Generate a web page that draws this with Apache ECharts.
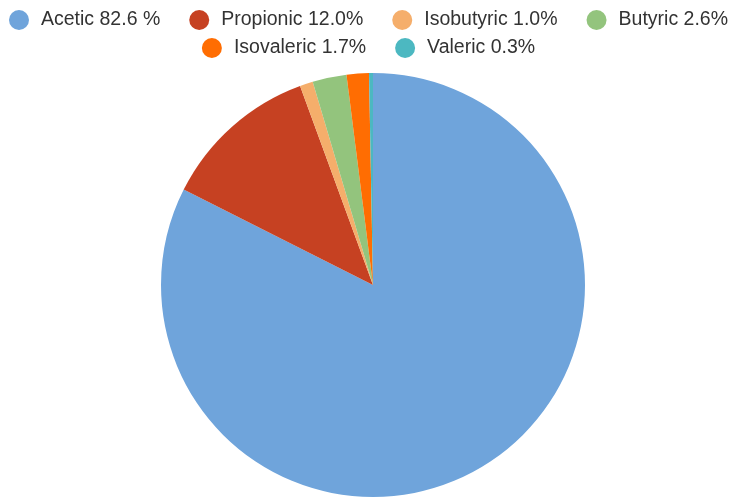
<!DOCTYPE html>
<html>
<head>
<meta charset="utf-8">
<script src="https://cdn.jsdelivr.net/npm/echarts@6/dist/echarts.min.js"></script>
<style>html,body{margin:0;padding:0;background:#fff}#main{width:737px;height:497px}</style>
</head>
<body>
<div id="main"></div>
<script>
var names = ['Acetic 82.6 %', 'Propionic 12.0%', 'Isobutyric 1.0%', 'Butyric 2.6%', 'Isovaleric 1.7%', 'Valeric 0.3%'];
var values = [82.6, 12.0, 1.0, 2.6, 1.7, 0.3];
var colors = ['#6fa4db', '#c64122', '#f5ae6b', '#93c47d', '#ff6d02', '#4cb8c1'];
var row1 = names.slice(0, 4);
var row2 = names.slice(4);

function legendRow(data, top) {
    return {
        left: 'center',
        top: top,
        width: 737,
        padding: 0,
        icon: 'circle',
        itemWidth: 20,
        itemHeight: 20,
        itemGap: 29,
        textStyle: {
            fontFamily: "'Liberation Sans', Arial, sans-serif",
            fontSize: 19.5,
            color: '#333',
            padding: [0, 0, 0, 7]
        },
        data: data
    };
}

var chart = echarts.init(document.getElementById('main'));
chart.setOption({
    animation: false,
    color: colors,
    legend: [legendRow(row1, 10), legendRow(row2, 38)],
    series: [{
        type: 'pie',
        center: [373, 285],
        radius: 212,
        startAngle: 90,
        clockwise: true,
        label: { show: false },
        labelLine: { show: false },
        data: names.map(function (n, i) {
            return { name: n, value: values[i] };
        })
    }]
});
</script>
</body>
</html>
